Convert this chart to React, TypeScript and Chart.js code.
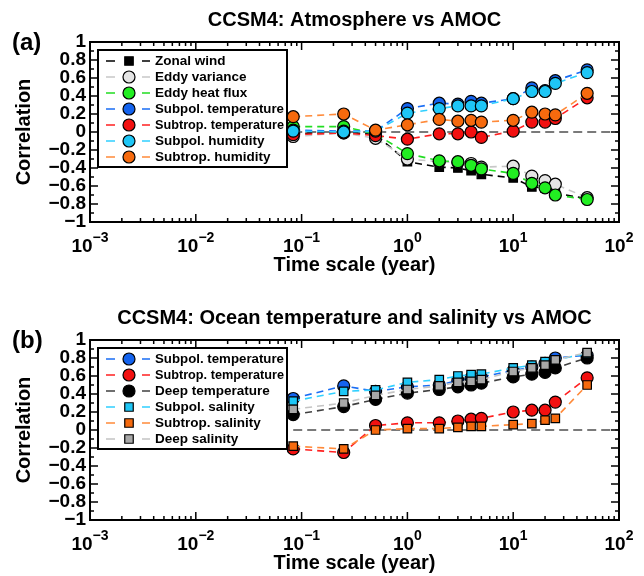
import React, { useEffect, useRef } from "react";
import { Chart, registerables } from "chart.js";

Chart.register(...registerables);

const FONT = "'Liberation Sans', Arial, Helvetica, sans-serif";

// ---------- shared axes data ----------
const timeScales = [1 / 12, 0.25, 0.5, 1, 2, 3, 4, 5, 10, 15, 20, 25, 50];
const zeroLineX = [1 / 12, 100];
const xTickValues = [0.001, 0.01, 0.1, 1, 10, 100];
const xTickBase = "10";
const xTickExponents = ["\u22123", "\u22122", "\u22121", "0", "1", "2"];
const yTickValues = [-1, -0.8, -0.6, -0.4, -0.2, 0, 0.2, 0.4, 0.6, 0.8, 1];

// ---------- panel (a): atmosphere vs AMOC ----------
const titleA = "CCSM4: Atmosphere vs AMOC";
const zonalWind = [-0.02, 0.0, -0.03, -0.33, -0.39, -0.4, -0.43, -0.47, -0.51, -0.61, -0.62, -0.68, -0.74];
const eddyVariance = [-0.05, -0.01, -0.07, -0.3, -0.33, -0.34, -0.35, -0.39, -0.38, -0.49, -0.54, -0.58, -0.73];
const eddyHeatFlux = [0.06, 0.06, -0.02, -0.24, -0.32, -0.33, -0.37, -0.41, -0.46, -0.57, -0.62, -0.7, -0.75];
const subpolTempA = [0.02, 0.01, 0.01, 0.26, 0.32, 0.31, 0.34, 0.32, 0.37, 0.49, 0.46, 0.57, 0.69];
const subtropTempA = [-0.03, -0.01, -0.04, -0.08, -0.02, -0.02, 0.0, -0.06, 0.01, 0.11, 0.11, 0.15, 0.38];
const subpolHumidity = [0.01, 0.0, 0.01, 0.21, 0.26, 0.29, 0.29, 0.29, 0.37, 0.45, 0.45, 0.54, 0.66];
const subtropHumidity = [0.17, 0.2, 0.02, 0.08, 0.14, 0.12, 0.13, 0.11, 0.13, 0.22, 0.2, 0.19, 0.43];

// ---------- panel (b): ocean temperature & salinity vs AMOC ----------
const titleB = "CCSM4: Ocean temperature and salinity vs AMOC";
const subpolTempB = [0.35, 0.49, 0.43, 0.48, 0.5, 0.55, 0.58, 0.59, 0.66, 0.7, 0.74, 0.8, 0.83];
const subtropTempB = [-0.21, -0.25, 0.05, 0.08, 0.08, 0.1, 0.12, 0.13, 0.2, 0.22, 0.22, 0.31, 0.58];
const deepTemp = [0.17, 0.26, 0.34, 0.41, 0.45, 0.48, 0.5, 0.52, 0.59, 0.62, 0.64, 0.69, 0.8];
const subpolSalinity = [0.32, 0.43, 0.445, 0.53, 0.56, 0.6, 0.615, 0.62, 0.69, 0.72, 0.76, 0.78, 0.85];
const subtropSalinity = [-0.18, -0.21, 0.0, 0.015, 0.015, 0.03, 0.04, 0.04, 0.06, 0.07, 0.11, 0.13, 0.5];
const deepSalinity = [0.23, 0.3, 0.385, 0.45, 0.49, 0.53, 0.54, 0.56, 0.65, 0.69, 0.72, 0.78, 0.86];

type Series = { label: string; values: number[]; line: string; fill: string; shape: "circle" | "rect" };

const seriesA: Series[] = [
  { label: "Zonal wind", values: zonalWind, line: "#000000", fill: "#000000", shape: "rect" },
  { label: "Eddy variance", values: eddyVariance, line: "#c8c8c8", fill: "#e4e4e4", shape: "circle" },
  { label: "Eddy heat flux", values: eddyHeatFlux, line: "#22dd22", fill: "#22ee22", shape: "circle" },
  { label: "Subpol. temperature", values: subpolTempA, line: "#1a6ef5", fill: "#1463ee", shape: "circle" },
  { label: "Subtrop. temperature", values: subtropTempA, line: "#ff2020", fill: "#f21010", shape: "circle" },
  { label: "Subpol. humidity", values: subpolHumidity, line: "#30d0ff", fill: "#1ec6f6", shape: "circle" },
  { label: "Subtrop. humidity", values: subtropHumidity, line: "#ff8a3a", fill: "#f66a0e", shape: "circle" },
];

const seriesB: Series[] = [
  { label: "Subpol. temperature", values: subpolTempB, line: "#1a6ef5", fill: "#1463ee", shape: "circle" },
  { label: "Subtrop. temperature", values: subtropTempB, line: "#ff2020", fill: "#f21010", shape: "circle" },
  { label: "Deep temperature", values: deepTemp, line: "#404040", fill: "#000000", shape: "circle" },
  { label: "Subpol. salinity", values: subpolSalinity, line: "#30d0ff", fill: "#1ec6f6", shape: "rect" },
  { label: "Subtrop. salinity", values: subtropSalinity, line: "#ff8a3a", fill: "#f66a0e", shape: "rect" },
  { label: "Deep salinity", values: deepSalinity, line: "#c4c4c4", fill: "#a8a8a8", shape: "rect" },
];

const PLOT_TOP = 42;
const PLOT_BOTTOM = 222;
const PLOT_LEFT = 90;
const PLOT_RIGHT = 619;
const WIDTH = 644;
const MARK_R = 6;

function makeDatasets(series: Series[]) {
  const ds: any[] = series.map((s, i) => ({
    label: s.label,
    data: timeScales.map((x, j) => ({ x, y: s.values[j] })),
    borderColor: s.line,
    backgroundColor: s.fill,
    borderWidth: 1.6,
    borderDash: [7, 5],
    pointStyle: s.shape,
    pointRadius: MARK_R,
    pointBackgroundColor: s.fill,
    pointBorderColor: "#000000",
    pointBorderWidth: 1.2,
    fill: false,
    tension: 0,
    order: series.length - i,
    inLegend: true,
  }));
  ds.push({
    label: "zero",
    data: zeroLineX.map((x) => ({ x, y: 0 })),
    borderColor: "#7a7a7a",
    borderWidth: 2,
    borderDash: [9, 5],
    pointRadius: 0,
    fill: false,
    order: 100,
    inLegend: false,
  });
  return ds;
}

function drawMarker(ctx: CanvasRenderingContext2D, shape: string, x: number, y: number, r: number, fill: string) {
  ctx.beginPath();
  if (shape === "rect") {
    const s = Math.SQRT1_2 * r;
    ctx.rect(x - s, y - s, 2 * s, 2 * s);
  } else {
    ctx.arc(x, y, r, 0, Math.PI * 2);
  }
  ctx.fillStyle = fill;
  ctx.fill();
  ctx.lineWidth = 1.2;
  ctx.strokeStyle = "#000";
  ctx.stroke();
}

const decorPlugin = {
  id: "decor",
  afterDatasetsDraw(chart: any, _args: any, opts: any) {
    const { ctx, chartArea } = chart;
    const { left, right, top, bottom } = chartArea;
    const xs = chart.scales.x;
    const ys = chart.scales.y;
    ctx.save();
    ctx.setLineDash([]);

    // legend box
    const entries = chart.data.datasets.filter((d: any) => d.inLegend);
    const lx = 98;
    const ly = 50;
    const lw = 189;
    const lh = (entries.length - 1) * 16 + 21;
    ctx.fillStyle = "#fff";
    ctx.fillRect(lx, ly, lw, lh);
    ctx.lineWidth = 2;
    ctx.strokeStyle = "#000";
    ctx.strokeRect(lx, ly, lw, lh);
    entries.forEach((d: any, i: number) => {
      const cy = ly + 11 + i * 16;
      ctx.strokeStyle = d.borderColor;
      ctx.lineWidth = 1.6;
      ctx.beginPath();
      ctx.moveTo(106, cy);
      ctx.lineTo(115, cy);
      ctx.moveTo(142, cy);
      ctx.lineTo(150, cy);
      ctx.stroke();
      drawMarker(ctx, d.pointStyle, 129, cy, MARK_R, d.pointBackgroundColor);
      ctx.fillStyle = "#000";
      ctx.font = `bold 13.5px ${FONT}`;
      ctx.textAlign = "left";
      ctx.textBaseline = "middle";
      ctx.fillText(d.label, 155, cy + 0.5, 129);
    });

    // frame
    ctx.strokeStyle = "#000";
    ctx.lineWidth = 2;
    ctx.strokeRect(left, top, right - left, bottom - top);

    // ticks (inward on all sides)
    ctx.lineWidth = 1.5;
    ctx.beginPath();
    for (let k = -3; k <= 2; k++) {
      for (let m = 1; m <= 9; m++) {
        const v = m * Math.pow(10, k);
        if (v > 100.0001) break;
        const px = xs.getPixelForValue(v);
        const len = m === 1 ? 8 : 4;
        ctx.moveTo(px, bottom);
        ctx.lineTo(px, bottom - len);
        ctx.moveTo(px, top);
        ctx.lineTo(px, top + len);
      }
    }
    for (let i = -10; i <= 10; i++) {
      const v = i / 10;
      const py = ys.getPixelForValue(v);
      const len = i % 2 === 0 ? 8 : 4;
      ctx.moveTo(left, py);
      ctx.lineTo(left + len, py);
      ctx.moveTo(right, py);
      ctx.lineTo(right - len, py);
    }
    ctx.stroke();

    // x tick labels with superscript exponents
    ctx.fillStyle = "#000";
    ctx.textAlign = "left";
    ctx.textBaseline = "alphabetic";
    xTickValues.forEach((v, i) => {
      const px = xs.getPixelForValue(v);
      ctx.font = `bold 19px ${FONT}`;
      const wb = ctx.measureText(xTickBase).width;
      ctx.font = `bold 14px ${FONT}`;
      const we = ctx.measureText(xTickExponents[i]).width;
      const sx = px - (wb + we) / 2;
      ctx.font = `bold 19px ${FONT}`;
      ctx.fillText(xTickBase, sx, bottom + 30);
      ctx.font = `bold 14px ${FONT}`;
      ctx.fillText(xTickExponents[i], sx + wb, bottom + 20);
    });

    // panel tag
    ctx.font = `bold 24px ${FONT}`;
    ctx.textBaseline = "middle";
    ctx.fillText(opts.tag, 12, 43);
    ctx.restore();
  },
};

function makeConfig(series: Series[], title: string, tag: string, H: number): any {
  return {
    type: "line",
    data: { datasets: makeDatasets(series) },
    plugins: [decorPlugin],
    options: {
      responsive: false,
      animation: false,
      devicePixelRatio: 1,
      events: [],
      layout: { padding: { left: 0, right: WIDTH - PLOT_RIGHT, top: 0, bottom: 0 } },
      plugins: {
        legend: { display: false },
        tooltip: { enabled: false },
        title: {
          display: true,
          text: title,
          fullSize: false,
          color: "#000",
          font: { family: FONT, size: 20, weight: "bold", lineHeight: 1.2 },
          padding: { top: 8.5, bottom: PLOT_TOP - 8.5 - 24 },
        },
        decor: { tag },
      },
      scales: {
        x: {
          type: "logarithmic",
          min: 0.001,
          max: 100,
          grid: { display: false, drawTicks: false },
          border: { display: false },
          ticks: { display: false },
          title: {
            display: true,
            text: "Time scale (year)",
            color: "#000",
            font: { family: FONT, size: 20, weight: "bold", lineHeight: 1.2 },
            padding: { top: 0, bottom: Math.max(0, H - 265 - 12) },
          },
          afterFit: (s: any) => {
            s.height = H - PLOT_BOTTOM;
          },
        },
        y: {
          type: "linear",
          min: -1,
          max: 1,
          grid: { display: false, drawTicks: false },
          border: { display: false },
          afterBuildTicks: (s: any) => {
            s.ticks = yTickValues.map((v) => ({ value: v }));
          },
          ticks: {
            autoSkip: false,
            color: "#000",
            padding: 4,
            font: { family: FONT, size: 19, weight: "bold", lineHeight: 1 },
            callback: (v: number) => {
              const r = Math.round(v * 10) / 10;
              if (r === 0) return "0";
              return r < 0 ? "\u2212" + String(Math.abs(r)) : String(r);
            },
          },
          title: {
            display: true,
            text: "Correlation",
            color: "#000",
            font: { family: FONT, size: 20, weight: "bold", lineHeight: 1.2 },
            padding: { top: 12.6, bottom: 0 },
          },
          afterFit: (s: any) => {
            s.width = PLOT_LEFT;
          },
        },
      },
    },
  };
}

export default function App() {
  const refA = useRef<HTMLCanvasElement>(null);
  const refB = useRef<HTMLCanvasElement>(null);

  useEffect(() => {
    const a = new Chart(refA.current as HTMLCanvasElement, makeConfig(seriesA, titleA, "(a)", 298));
    const b = new Chart(refB.current as HTMLCanvasElement, makeConfig(seriesB, titleB, "(b)", 278));
    return () => {
      a.destroy();
      b.destroy();
    };
  }, []);

  return (
    <div style={{ position: "absolute", left: 0, top: 0, width: WIDTH, height: 576, background: "#fff" }}>
      <canvas ref={refA} width={WIDTH} height={298} style={{ display: "block", width: WIDTH, height: 298 }} />
      <canvas ref={refB} width={WIDTH} height={278} style={{ display: "block", width: WIDTH, height: 278 }} />
    </div>
  );
}
